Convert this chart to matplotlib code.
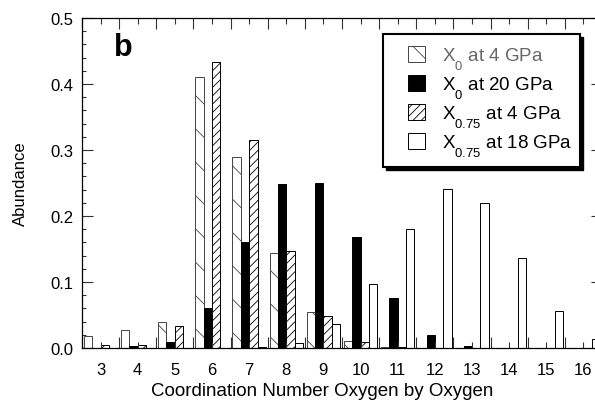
import numpy as np
import matplotlib.pyplot as plt
from matplotlib.patches import Rectangle
from matplotlib.ticker import MultipleLocator
from matplotlib import _mathtext

plt.rcParams['font.family'] = ['Liberation Sans', 'DejaVu Sans']
plt.rcParams['mathtext.fontset'] = 'custom'
plt.rcParams['mathtext.rm'] = 'Liberation Sans'
plt.rcParams['mathtext.it'] = 'Liberation Sans'
plt.rcParams['hatch.linewidth'] = 0.6
# drop subscripts lower than the mathtext default
_mathtext.FontConstantsBase.subdrop = 0.9
_mathtext.FontConstantsBase.sub1 = 0.9

# Coordination number and abundance for each run
cn = np.arange(3, 17)
x0_4gpa = [0.018, 0.027, 0.039, 0.41, 0.29, 0.144, 0.055, 0.011, 0.001, 0, 0, 0, 0, 0]
x0_20gpa = [0, 0.003, 0.009, 0.06, 0.16, 0.248, 0.25, 0.168, 0.075, 0.02, 0.003, 0, 0, 0]
x075_4gpa = [0.004, 0.005, 0.033, 0.433, 0.315, 0.147, 0.048, 0.009, 0.001, 0, 0, 0, 0, 0]
x075_18gpa = [0, 0, 0, 0, 0.002, 0.008, 0.036, 0.097, 0.181, 0.241, 0.22, 0.136, 0.056, 0.014]

labels = [r'X$_{0}$ at 4 GPa', r'X$_{0}$ at 20 GPa',
          r'X$_{0.75}$ at 4 GPa', r'X$_{0.75}$ at 18 GPa']

fig = plt.figure(figsize=(5.95, 4.06), dpi=100)
ax = fig.add_axes([0.1378, 0.1404, 0.874, 0.8128])

w = 0.225
ax.bar(cn - 1.5 * w, x0_4gpa, w, facecolor='white', edgecolor='#444444',
       linewidth=0.7, hatch='\\', label=labels[0])
ax.bar(cn - 0.5 * w, x0_20gpa, w, facecolor='black', edgecolor='black',
       linewidth=0.7, label=labels[1])
ax.bar(cn + 0.5 * w, x075_4gpa, w, facecolor='white', edgecolor='black',
       linewidth=0.7, hatch='////', label=labels[2])
ax.bar(cn + 1.5 * w, x075_18gpa, w, facecolor='white', edgecolor='black',
       linewidth=0.7, label=labels[3])

ax.set_xlim(2.5, 16.5)
ax.set_ylim(0, 0.5)
ax.set_xticks(cn)
ax.xaxis.set_minor_locator(MultipleLocator(1, offset=0.5))
ax.yaxis.set_major_locator(MultipleLocator(0.1))
ax.yaxis.set_minor_locator(MultipleLocator(0.02))
ax.yaxis.set_major_formatter(lambda v, p: f'{v:.1f}')

ax.tick_params(axis='both', which='both', direction='in', top=True, right=True,
               labelsize=12, width=0.8, color='#333333')
ax.tick_params(axis='x', which='major', length=4, pad=10)
ax.tick_params(axis='x', which='minor', length=8)
ax.tick_params(axis='y', which='major', length=8, pad=6)
ax.tick_params(axis='y', which='minor', length=3)
for s in ax.spines.values():
    s.set_linewidth(0.9)

ax.set_xlabel('Coordination Number Oxygen by Oxygen', fontsize=13.5)
ax.xaxis.set_label_coords(0.4615, -0.103)
ax.set_ylabel('Abundance', fontsize=12, labelpad=16)
ax.text(0.062, 0.958, 'b', transform=ax.transAxes, fontsize=22,
        fontweight='bold', va='top', ha='left')

# legend box with a solid drop shadow
box = dict(transform=fig.transFigure, clip_on=False)
ax.add_patch(Rectangle((0.6487, 0.5788), 0.3311, 0.3276, facecolor='black',
                       edgecolor='black', zorder=4, **box))
ax.add_patch(Rectangle((0.6437, 0.5862), 0.3311, 0.3276, facecolor='white',
                       edgecolor='black', linewidth=1.5, zorder=4.5, **box))

leg = ax.legend(loc='upper left', bbox_to_anchor=(0.6857, 0.886),
                bbox_transform=fig.transFigure, borderaxespad=0, borderpad=0,
                fontsize=13.5, handlelength=0.9, handleheight=0.9,
                handletextpad=0.9, labelspacing=0.16, frameon=False)
leg.set_zorder(5)
leg.get_texts()[0].set_color('#666666')

fig.savefig('out.png', dpi=100)
